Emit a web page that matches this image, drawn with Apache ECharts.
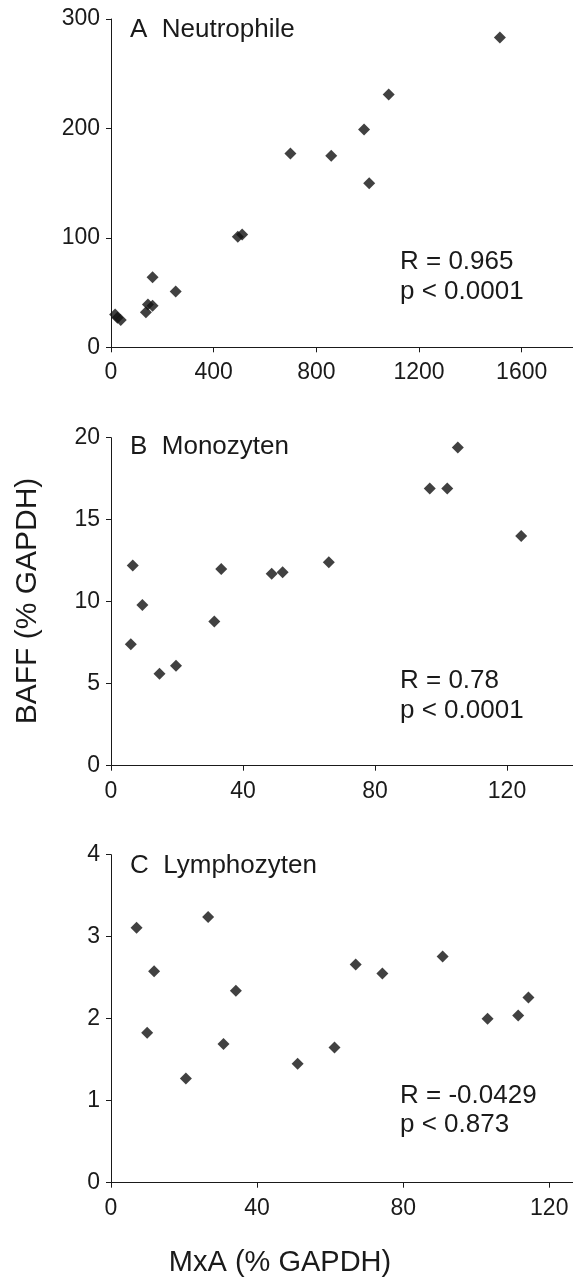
<!DOCTYPE html>
<html>
<head>
<meta charset="utf-8">
<script src="https://cdn.jsdelivr.net/npm/echarts@6/dist/echarts.min.js"></script>
<style>
html,body{margin:0;padding:0;background:#fff;}
#chart{width:573px;height:1279px;}
</style>
</head>
<body>
<div id="chart"></div>
<script>
// Panel A: Neutrophile
const neutroX = [1515, 1082, 986, 699, 858, 1006, 494, 511, 162, 252, 144, 162, 136, 16, 25, 38];
const neutroY = [283, 231, 199, 177, 175, 150, 101, 103, 64, 51, 39, 38, 32, 30, 27, 25];
// Panel B: Monozyten
const monoX = [105.1, 96.6, 101.9, 124.3, 6.6, 33.4, 48.7, 52.0, 66.0, 9.5, 31.3, 6.0, 14.7, 19.7];
const monoY = [19.4, 16.9, 16.9, 14.0, 12.2, 12.0, 11.7, 11.8, 12.4, 9.8, 8.8, 7.4, 5.6, 6.1];
// Panel C: Lymphozyten
const lymphX = [7.0, 26.6, 11.8, 9.9, 34.2, 30.8, 20.5, 51.1, 61.2, 67.0, 74.3, 90.8, 103.1, 111.5, 114.3];
const lymphY = [3.11, 3.24, 2.58, 1.83, 2.34, 1.69, 1.27, 1.45, 1.65, 2.66, 2.55, 2.76, 2.00, 2.04, 2.26];

const panelTitles = ['A  Neutrophile', 'B  Monozyten', 'C  Lymphozyten'];
const statR = ['R = 0.965', 'R = 0.78', 'R = -0.0429'];
const statP = ['p < 0.0001', 'p < 0.0001', 'p < 0.873'];
const xTicksA = [0, 400, 800, 1200, 1600];
const xTicksB = [0, 40, 80, 120];
const xTicksC = [0, 40, 80, 120];
const xAxisTitle = 'MxA (% GAPDH)';
const yAxisTitle = 'BAFF (% GAPDH)';

const FONT = '"Liberation Sans", Arial, sans-serif';
const INK = '#1a1a1a';

function zip(xs, ys) { return xs.map((x, i) => [x, ys[i]]); }

function xAxisCfg(idx, max, ticks) {
  return {
    type: 'value', gridIndex: idx, min: 0, max: max,
    axisLine: { show: true, lineStyle: { color: INK, width: 1 } },
    axisTick: { show: true, length: 5, lineStyle: { color: INK }, customValues: ticks },
    axisLabel: { color: INK, fontSize: 23, fontFamily: FONT, margin: 14, customValues: ticks,
                 formatter: v => String(v) },
    splitLine: { show: false }
  };
}
function yAxisCfg(idx, max, interval) {
  return {
    type: 'value', gridIndex: idx, min: 0, max: max, interval: interval,
    axisLine: { show: true, lineStyle: { color: INK, width: 1 } },
    axisTick: { show: true, length: 5, lineStyle: { color: INK } },
    axisLabel: { color: INK, fontSize: 23, fontFamily: FONT, margin: 11, formatter: v => String(v) },
    splitLine: { show: false }
  };
}
function scatter(idx, data) {
  return {
    type: 'scatter', xAxisIndex: idx, yAxisIndex: idx, data: data,
    symbol: 'diamond', symbolSize: [12, 12],
    itemStyle: { color: '#111' }, silent: true, animation: false
  };
}
function txt(text, x, y, size, extra) {
  return Object.assign({
    type: 'text', x: x, y: y, silent: true,
    style: {
      text: text, font: size + 'px ' + FONT, fill: INK,
      align: 'left', verticalAlign: 'middle',
      textAlign: 'left', textVerticalAlign: 'middle'
    }
  }, extra || {});
}

const titleY = [29.5, 446.7, 865.5];
const statY1 = [262, 680.8, 1095.8];
const statY2 = [292.2, 710.8, 1124.8];

const graphics = [];
for (let i = 0; i < 3; i++) {
  graphics.push(txt(panelTitles[i], 130, titleY[i], 26));
  graphics.push(txt(statR[i], 400, statY1[i], 26));
  graphics.push(txt(statP[i], 400, statY2[i], 26));
}
const xt = txt(xAxisTitle, 280, 1263, 29);
xt.style.align = 'center'; xt.style.textAlign = 'center';
graphics.push(xt);
const yt = txt(yAxisTitle, 28, 601, 30, { rotation: Math.PI / 2 });
yt.style.align = 'center'; yt.style.textAlign = 'center';
graphics.push(yt);

const chart = echarts.init(document.getElementById('chart'), null, { renderer: 'canvas' });
chart.setOption({
  animation: false,
  backgroundColor: '#fff',
  grid: [
    { left: 111, top: 19, width: 463, height: 328.3 },
    { left: 111, top: 437.7, width: 462, height: 328 },
    { left: 111, top: 854.7, width: 462, height: 328 }
  ],
  xAxis: [xAxisCfg(0, 1800, xTicksA), xAxisCfg(1, 140, xTicksB), xAxisCfg(2, 126.5, xTicksC)],
  yAxis: [yAxisCfg(0, 300, 100), yAxisCfg(1, 20, 5), yAxisCfg(2, 4, 1)],
  series: [scatter(0, zip(neutroX, neutroY)), scatter(1, zip(monoX, monoY)), scatter(2, zip(lymphX, lymphY))],
  graphic: graphics
});
</script>
</body>
</html>
